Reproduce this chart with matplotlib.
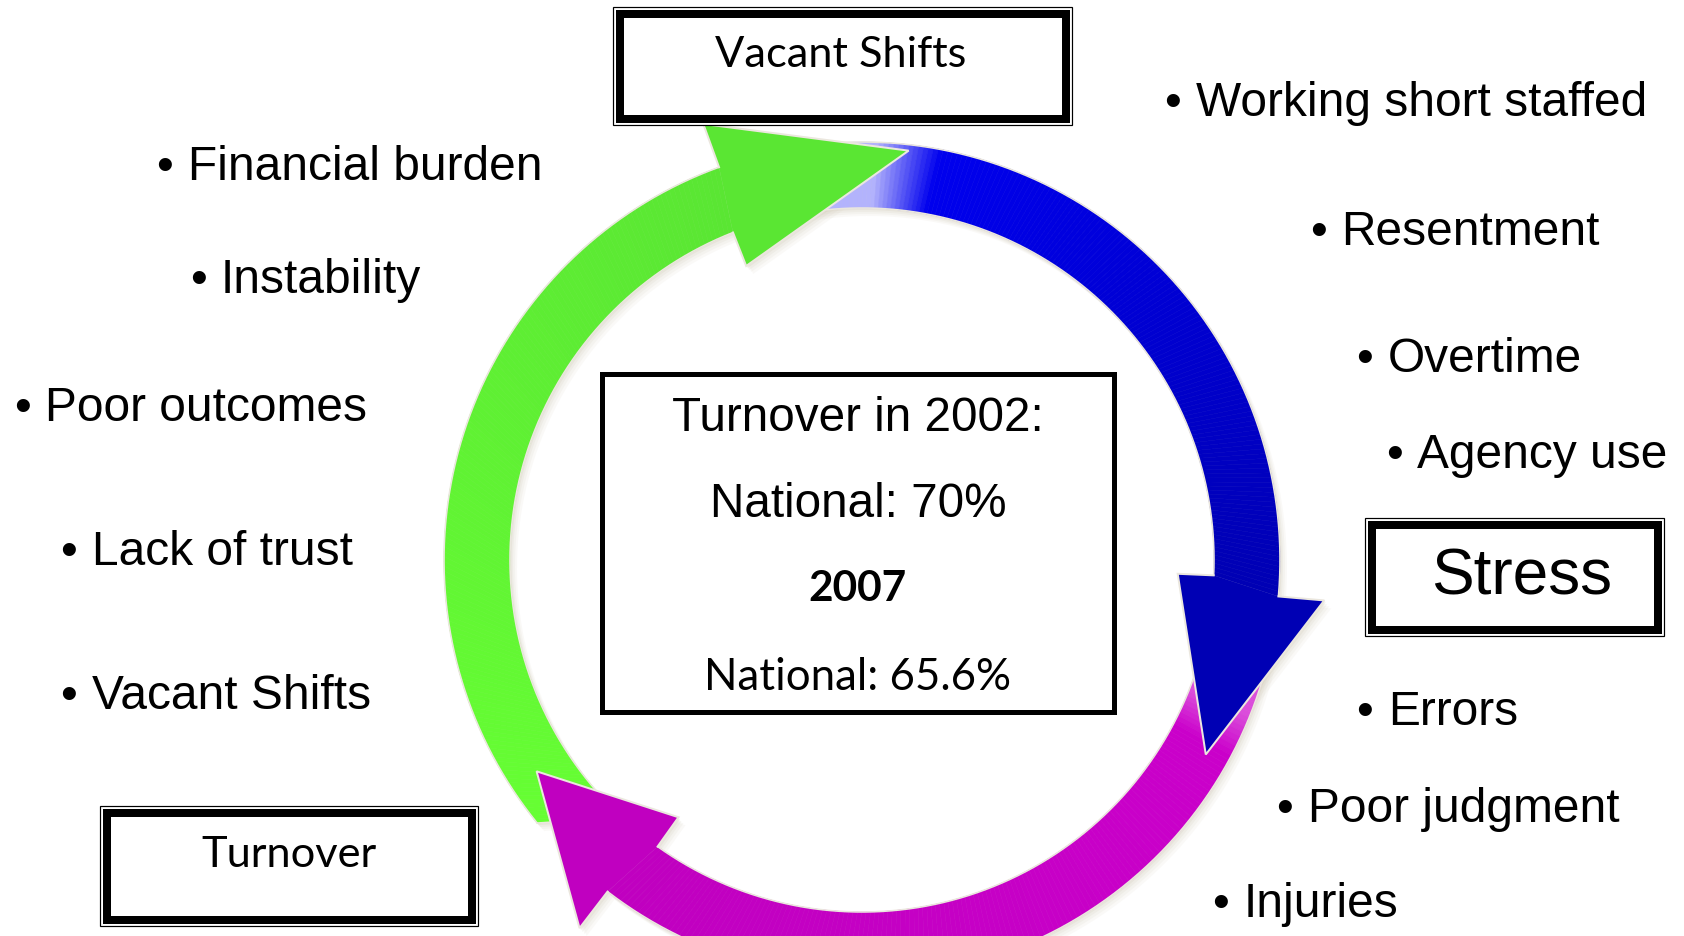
import numpy as np
import matplotlib
matplotlib.use("Agg")
import matplotlib.pyplot as plt
from matplotlib.patches import Polygon, Rectangle
from matplotlib.collections import PolyCollection
from matplotlib.colors import to_rgb

W, H = 1684, 937
CX, CY = 862, 561
R_IN, R_OUT = 352, 418
HEAD_OUT, HEAD_IN = 46, 36

# ---- cycle arrows (clockwise): green -> blue -> magenta ----
arrow_start_out = [219.0, 104.0, -12.0]
arrow_start_in = [227.0, 104.0, -12.0]
arrow_base_out = [110.0, -5.0, -127.5]
arrow_base_in = [111.5, -2.5, -125.5]
arrow_tip = [83.5, -29.5, -147.0]
arrow_tip_r = [412, 395, 388]
arrow_col_start = ["#66ff33", "#0000ff", "#cc00cc"]
arrow_col_end = ["#5ae633", "#0000b4", "#c000c0"]
arrow_glow = [0.0, 0.70, 0.30]
arrow_glow_hold = [0.0, 16.0, 10.0]
arrow_glow_fade = [1.0, 9.0, 6.0]

# ---- text ----
left_items = ["Financial burden", "Instability", "Poor outcomes", "Lack of trust", "Vacant Shifts"]
left_x = [188, 221, 45, 92, 92]
left_y = [180, 293, 421, 565, 709]
right_items = ["Working short staffed", "Resentment", "Overtime", "Agency use",
               "Errors", "Poor judgment", "Injuries"]
right_x = [1196, 1341, 1388, 1417, 1388, 1308, 1244]
right_y = [116, 245, 372, 468, 725, 822, 917]

box_labels = ["Vacant Shifts", "Stress", "Turnover"]
box_rects = [(613, 8, 1072, 126), (1365, 519, 1664, 637), (100, 807, 478, 927)]
box_text_xy = [(841, 67), (1522, 595), (289, 867)]

center_lines = ["Turnover in 2002:", "National: 70%", "2007", "National: 65.6%"]
center_y = [431, 517, 601, 690]

fig = plt.figure(figsize=(W / 100, H / 100), dpi=100)
ax = fig.add_axes([0, 0, 1, 1])
ax.set_xlim(0, W)
ax.set_ylim(H, 0)
ax.axis("off")
fig.patch.set_facecolor("white")

PX = 0.72  # points per pixel at dpi 100


def pol(a_deg, r):
    a = np.radians(a_deg)
    return CX + r * np.cos(a), CY - r * np.sin(a)


EDGE = "#ebe7de"
for i in range(3):
    so, si = arrow_start_out[i], arrow_start_in[i]
    bo, bi = arrow_base_out[i], arrow_base_in[i]
    tip, tr = arrow_tip[i], arrow_tip_r[i]
    n = 160
    t = np.linspace(0, 1, n + 1)
    ao = so + t * (bo - so)
    ai = si + t * (bi - si)
    c0 = np.array(to_rgb(arrow_col_start[i]))
    c1 = np.array(to_rgb(arrow_col_end[i]))
    quads, cols = [], []
    for k in range(n):
        quads.append([pol(ao[k], R_OUT), pol(ao[k + 1], R_OUT),
                      pol(ai[k + 1], R_IN), pol(ai[k], R_IN)])
        tm = (t[k] + t[k + 1]) / 2
        c = c0 + (c1 - c0) * tm
        d = abs(tm * (bo - so))
        g = arrow_glow[i] * np.clip(1 - (d - arrow_glow_hold[i]) / arrow_glow_fade[i], 0, 1)
        c = c * (1 - g) + np.ones(3) * g
        cols.append(c)
    # full outline for shadow
    arc_o = [pol(a, R_OUT) for a in np.linspace(so, bo, 80)]
    arc_i = [pol(a, R_IN) for a in np.linspace(bi, si, 80)]
    head_pts = [pol(bo, R_OUT + HEAD_OUT), pol(tip, tr), pol(bi, R_IN - HEAD_IN)]
    full = np.array(arc_o + head_pts + arc_i)
    for off, al in [((7, 8), 0.12), ((5, 6), 0.15), ((3, 4), 0.2), ((1.5, 2), 0.3)]:
        ax.add_patch(Polygon(full + np.array(off), closed=True, fc="#d8d2c2",
                             ec="none", alpha=al, zorder=1))
    pc = PolyCollection(quads, facecolors=cols, edgecolors=cols, linewidths=0.4, zorder=2)
    ax.add_collection(pc)
    # body outline
    ao_xy = np.array(arc_o)
    ai_xy = np.array([pol(a, R_IN) for a in np.linspace(si, bi, 80)])
    ax.plot(ao_xy[:, 0], ao_xy[:, 1], color=EDGE, lw=1.6 * PX, zorder=2.5)
    ax.plot(ai_xy[:, 0], ai_xy[:, 1], color=EDGE, lw=1.6 * PX, zorder=2.5)
    st = np.array([pol(so, R_OUT), pol(si, R_IN)])
    ax.plot(st[:, 0], st[:, 1], color=EDGE, lw=1.6 * PX, zorder=2.5)
    # head
    hp = np.array([pol(bo, R_OUT), pol(bo, R_OUT + HEAD_OUT), pol(tip, tr),
                   pol(bi, R_IN - HEAD_IN), pol(bi, R_IN)])
    ax.add_patch(Polygon(hp, closed=True, fc=c1, ec="none", zorder=3))
    ax.plot(hp[:, 0], hp[:, 1], color=EDGE, lw=2.0 * PX, zorder=3.5,
            solid_joinstyle="miter")

# ---- boxes with double frame ----
for (x0, y0, x1, y1) in box_rects:
    ax.add_patch(Rectangle((x0, y0), x1 - x0, y1 - y0, fc="white", ec="black",
                           lw=1.2 * PX, zorder=5))
    ins = 6.5
    ax.add_patch(Rectangle((x0 + ins, y0 + ins), x1 - x0 - 2 * ins, y1 - y0 - 2 * ins,
                           fc="none", ec="black", lw=8 * PX, zorder=6,
                           joinstyle="miter"))

for lab, (tx, ty) in zip(box_labels, box_text_xy):
    if lab == "Stress":
        ax.text(tx, ty, lab, fontsize=46, family="Liberation Sans", ha="center",
                va="baseline", zorder=7)
    else:
        ax.text(tx, ty, lab, fontsize=31.2, family="Lato", ha="center",
                va="baseline", zorder=7)

# ---- center box ----
ax.add_patch(Rectangle((602, 375), 1114 - 602, 713 - 375, fc="white", ec="black",
                       lw=5 * PX, zorder=5, joinstyle="miter"))
ccx = 858
ax.text(ccx, center_y[0], center_lines[0], fontsize=34.3, family="Liberation Sans",
        ha="center", va="baseline", zorder=7)
ax.text(ccx, center_y[1], center_lines[1], fontsize=34.3, family="Liberation Sans",
        ha="center", va="baseline", zorder=7)
ax.text(ccx, center_y[2], center_lines[2], fontsize=30.5, family="Lato", weight="bold",
        ha="center", va="baseline", zorder=7)
ax.text(ccx, center_y[3], center_lines[3], fontsize=31.6, family="Lato",
        ha="center", va="baseline", zorder=7)

# ---- bullet lists ----
for items, xs, ys in [(left_items, left_x, left_y), (right_items, right_x, right_y)]:
    for it, x, y in zip(items, xs, ys):
        ax.text(x - 23, y, "\u2022", fontsize=34.5, family="Liberation Sans",
                ha="center", va="baseline", zorder=7)
        ax.text(x, y, it, fontsize=34.5, family="Liberation Sans", ha="left",
                va="baseline", zorder=7)

fig.savefig("out.png", dpi=100, facecolor="white")
